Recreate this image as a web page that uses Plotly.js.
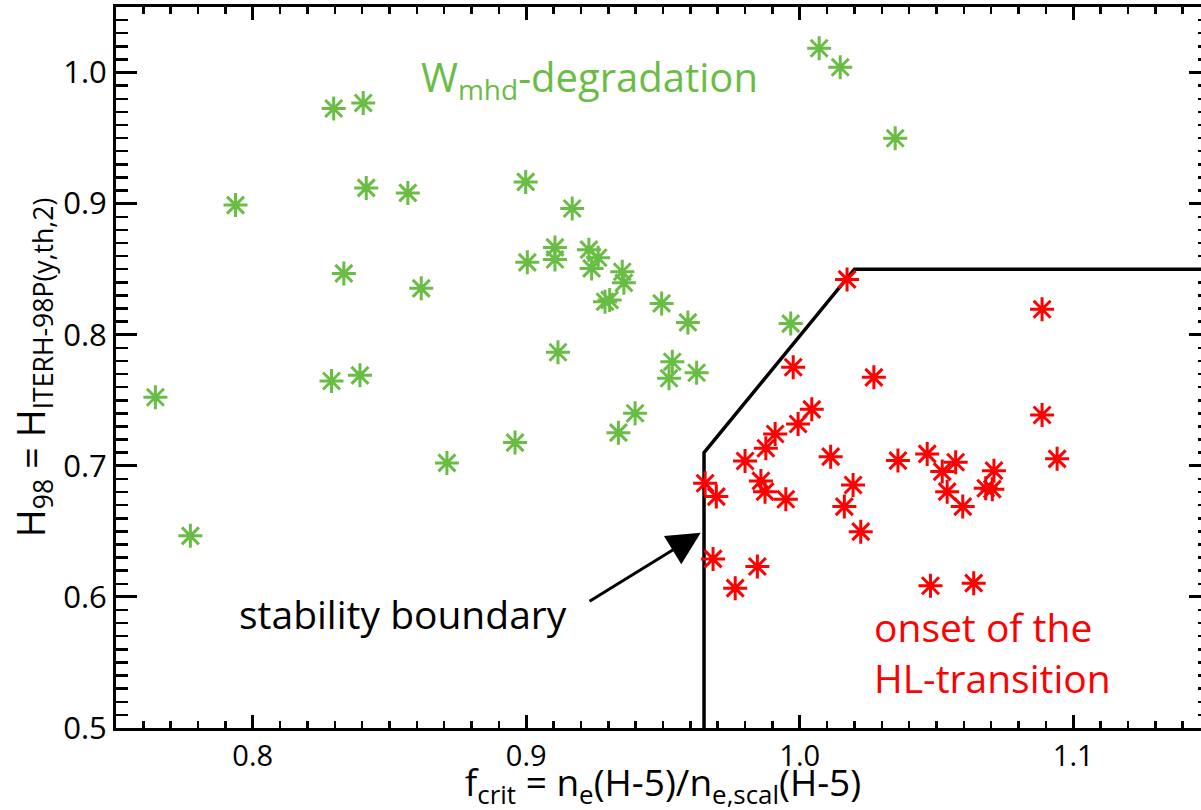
<!DOCTYPE html>
<html>
<head>
<meta charset="utf-8">
<script src="https://cdn.plot.ly/plotly-3.0.1.min.js"></script>
<style>
  html, body { margin: 0; padding: 0; background: #ffffff; overflow: hidden; width: 1201px; height: 810px; }
  #chart { width: 1212px; height: 812px; }
</style>
</head>
<body>
<div id="chart"></div>
<script>
// W_mhd-degradation points (green)
const greenX = [0.7644, 0.7772, 0.7937, 0.8296, 0.8404, 0.8415, 0.8567, 0.8333, 0.8616, 0.8288,
                0.8392, 0.8710, 0.8998, 0.9168, 0.9105, 0.9105, 0.9004, 0.9229, 0.9263, 0.9239,
                0.9351, 0.9357, 0.9288, 0.9305, 0.9495, 0.9591, 0.9967, 0.9116, 0.9534, 0.9522,
                0.9623, 0.9398, 0.9337, 0.8959, 1.0071, 1.0148, 1.0349];
const greenY = [0.7523, 0.6466, 0.8989, 0.9726, 0.9768, 0.9120, 0.9082, 0.8468, 0.8354, 0.7647,
                0.7690, 0.7022, 0.9166, 0.8963, 0.8666, 0.8574, 0.8552, 0.8649, 0.8587, 0.8506,
                0.8480, 0.8396, 0.8252, 0.8265, 0.8239, 0.8094, 0.8085, 0.7866, 0.7794, 0.7668,
                0.7710, 0.7401, 0.7253, 0.7177, 1.0185, 1.0040, 0.9499];

// onset of the HL-transition points (red)
const redX = [1.0173, 1.0886, 0.9976, 1.0271, 1.0044, 0.9994, 0.9910, 0.9876, 0.9800, 1.0113,
              1.0359, 0.9654, 0.9695, 0.9858, 0.9873, 0.9949, 1.0195, 1.0163, 1.0223, 0.9683,
              0.9845, 0.9764, 1.0886, 1.0941, 1.0466, 1.0521, 1.0570, 1.0539, 1.0596, 1.0710,
              1.0680, 1.0704, 1.0478, 1.0636];
const redY = [0.8422, 0.8194, 0.7752, 0.7675, 0.7431, 0.7319, 0.7243, 0.7134, 0.7037, 0.7070,
              0.7040, 0.6867, 0.6765, 0.6885, 0.6803, 0.6745, 0.6854, 0.6689, 0.6498, 0.6290,
              0.6232, 0.6067, 0.7388, 0.7053, 0.7091, 0.6956, 0.7027, 0.6803, 0.6689, 0.6963,
              0.6829, 0.6822, 0.6085, 0.6105];

// stability boundary polyline
const boundaryX = [0.965, 0.965, 1.02, 1.15];
const boundaryY = [0.50, 0.71, 0.85, 0.85];

// axis ticks
const xTickVals = [0.8, 0.9, 1.0, 1.1];
const xTickText = ['0.8', '0.9', '1.0', '1.1'];
const yTickVals = [0.5, 0.6, 0.7, 0.8, 0.9, 1.0];
const yTickText = ['0.5', '0.6', '0.7', '0.8', '0.9', '1.0'];

const GREEN = '#69bd45';
const RED = '#ff0000';
const FONT = 'Open Sans, Noto Sans, sans-serif';

const markerStyle = (c) => ({
  symbol: 'asterisk-open', size: 20, color: c,
  line: { color: c, width: 3 }
});

const traces = [
  { type: 'scatter', mode: 'lines', x: boundaryX, y: boundaryY,
    line: { color: '#000000', width: 3.5 }, hoverinfo: 'skip', showlegend: false },
  { type: 'scatter', mode: 'markers', x: greenX, y: greenY, name: 'W_mhd-degradation',
    marker: markerStyle(GREEN), showlegend: false, cliponaxis: true },
  { type: 'scatter', mode: 'markers', x: redX, y: redY, name: 'onset of the HL-transition',
    marker: markerStyle(RED), showlegend: false, cliponaxis: true }
];

const axisCommon = {
  showgrid: false, zeroline: false, showline: true, linecolor: '#000000', linewidth: 3,
  mirror: 'ticks', ticks: 'inside', tickcolor: '#000000', tickwidth: 3
};

const layout = {
  width: 1212, height: 812,
  margin: { l: 116, r: 2, t: 7, b: 84 },
  paper_bgcolor: '#ffffff', plot_bgcolor: '#ffffff',
  showlegend: false,
  font: { family: FONT, color: '#000000' },
  xaxis: Object.assign({}, axisCommon, {
    range: [0.75, 1.15], tickvals: xTickVals, ticktext: xTickText, ticklen: 13,
    minor: { dtick: 0.01, tick0: 0.75, ticks: 'inside', ticklen: 7, tickwidth: 2.5, tickcolor: '#000000' },
    tickfont: { family: FONT, size: 29, color: '#000000' },
    title: { text: 'f<sub>crit</sub> = n<sub>e</sub>(H-5)/n<sub>e,scal</sub>(H-5)',
             font: { family: FONT, size: 37, color: '#000000' }, standoff: 10 }
  }),
  yaxis: Object.assign({}, axisCommon, {
    range: [0.5, 1.05], tickvals: yTickVals, ticktext: yTickText, ticklen: 21,
    minor: { dtick: 0.01, tick0: 0.5, ticks: 'inside', ticklen: 12, tickwidth: 2.5, tickcolor: '#000000' },
    tickfont: { family: FONT, size: 31, color: '#000000' },
    title: { text: 'H<sub>98</sub> = H<sub>ITERH-98P(y,th,2)</sub>',
             font: { family: FONT, size: 38, color: '#000000' }, standoff: 6 }
  }),
  annotations: [
    { x: 0.8607, y: 0.9954, xref: 'x', yref: 'y', xanchor: 'left', yanchor: 'middle',
      text: 'W<sub>mhd</sub>-degradation', showarrow: false,
      font: { family: FONT, size: 40, color: GREEN } },
    { x: 0.7941, y: 0.5877, xref: 'x', yref: 'y', xanchor: 'left', yanchor: 'middle',
      text: 'stability boundary', showarrow: false,
      font: { family: FONT, size: 39, color: '#000000' } },
    { x: 1.0265, y: 0.558, xref: 'x', yref: 'y', xanchor: 'left', yanchor: 'middle', align: 'left',
      text: 'onset of the<br>HL-transition', showarrow: false,
      font: { family: FONT, size: 39, color: RED } },
    { x: 0.9638, y: 0.6489, xref: 'x', yref: 'y', ax: 0.9226, ay: 0.596, axref: 'x', ayref: 'y',
      text: '', showarrow: true, arrowhead: 2, arrowsize: 2.2, arrowwidth: 3, arrowcolor: '#000000' }
  ]
};

Plotly.newPlot('chart', traces, layout, { staticPlot: true, displayModeBar: false });
</script>
</body>
</html>
